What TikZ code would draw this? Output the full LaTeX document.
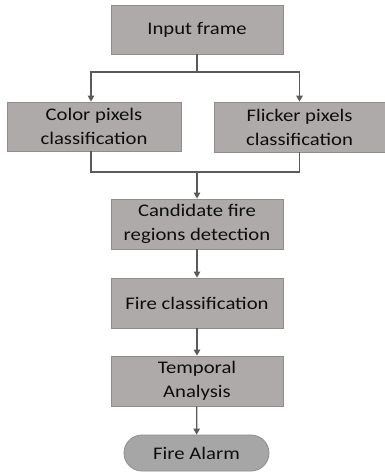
\documentclass[tikz,border=0pt]{standalone}
\usepackage{fontspec}
\setmainfont{Carlito}[FakeStretch=1.17]
\usetikzlibrary{arrows.meta,shapes.misc}
\definecolor{boxfill}{HTML}{AEAAAA}
\definecolor{boxline}{HTML}{8F8C8C}
\definecolor{alarmfill}{HTML}{A6A6A6}
\definecolor{linkgray}{HTML}{5A5A5A}
\definecolor{textgray}{HTML}{0D0D0D}
\begin{document}
\begin{tikzpicture}[x=1pt,y=-1pt]

      \tikzset{stage/.style={draw=boxline, fill=boxfill, line width=0.8pt, minimum width=172pt, minimum height=49pt, inner sep=0pt, align=center, text=textgray, font=\fontsize{17.7}{24}\selectfont},
               alarm/.style={draw=boxline, fill=alarmfill, line width=0.8pt, rounded rectangle, minimum width=145pt, minimum height=36pt, inner sep=0pt, text=textgray, font=\fontsize{17.7}{24}\selectfont},
               link/.style={draw=linkgray, line width=1.2pt},
               arr/.style={link, -{Triangle[length=6pt,width=6.5pt]}}}
      \useasboundingbox (0,0) rectangle (385,472);
% Boxes
      	\node[stage] (input) at (197,29.5) {Input frame};
      	\node[stage, minimum width=174pt] (color) at (94,126.5) {Color pixels\\classification};
    	\node[stage, minimum width=171pt, minimum height=50pt] (flicker) at (299.5,127) {Flicker pixels\\classification};
  	    \node[stage, minimum height=50pt] (cand) at (197,224) {Candidate fire\\regions detection};
  	    \node[stage, minimum height=50pt] (firecls) at (197,303) {Fire classification};
  	    \node[stage, minimum height=50pt] (temporal) at (197,381) {Temporal\\Analysis};
  	    \node[alarm] (alarm) at (196.5,453) {Fire Alarm};
  	    \coordinate (split) at (197,72);
  	    \coordinate (merge) at (197,172);
%Edges
		\draw[link] (input) -- (split);
		\draw[arr] (split) -| ([xshift=-3pt]color.north);
		\draw[arr] (split) -| (flicker.north);
		\draw[link] ([xshift=-3pt]color.south) |- (merge);
		\draw[link] (flicker.south) |- (merge);
		\draw[arr] (merge) -- (cand);
		\draw[arr] (cand) -- (firecls);
		\draw[arr] (firecls) -- (temporal);
		\draw[arr] (temporal) -- (alarm);

	\end{tikzpicture}
\end{document}
